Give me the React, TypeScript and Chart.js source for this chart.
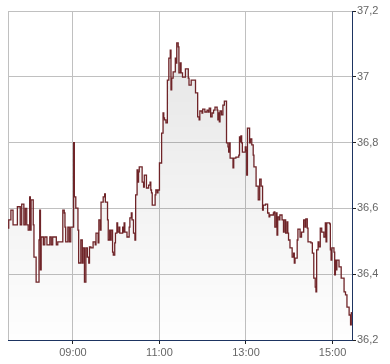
import React, { useEffect, useRef } from "react";
import { Chart, registerables } from "chart.js";

Chart.register(...registerables);

const times = [
  "07:30","07:31","07:34","07:37","07:43","07:47","07:49","07:52","07:54","07:56",
  "07:58","08:00","08:01","08:02","08:05","08:06","08:09","08:13","08:14","08:15",
  "08:16","08:19","08:21","08:24","08:28","08:30","08:32","08:37","08:39","08:46",
  "08:48","08:49","08:50","08:53","08:55","08:57","09:01","09:02","09:04","09:07",
  "09:08","09:11","09:13","09:14","09:16","09:18","09:20","09:22","09:23","09:25",
  "09:28","09:31","09:32","09:35","09:36","09:38","09:39","09:42","09:44","09:45",
  "09:48","09:49","09:51","09:52","09:53","09:55","09:56","09:58","09:59","10:01",
  "10:02","10:04","10:05","10:09","10:10","10:11","10:12","10:15","10:18","10:19",
  "10:21","10:22","10:24","10:26","10:27","10:29","10:30","10:31","10:32","10:36",
  "10:38","10:39","10:42","10:45","10:47","10:48","10:49","10:50","10:54","10:55",
  "10:57","10:58","11:00","11:03","11:05","11:06","11:07","11:09","11:11","11:13",
  "11:15","11:16","11:17","11:19","11:22","11:23","11:24","11:26","11:27","11:29",
  "11:30","11:32","11:36","11:40","11:41","11:44","11:50","11:53","11:55","11:56",
  "11:59","12:00","12:03","12:06","12:08","12:09","12:11","12:13","12:15","12:17",
  "12:20","12:21","12:22","12:23","12:24","12:26","12:28","12:30","12:33","12:35",
  "12:36","12:37","12:38","12:42","12:43","12:46","12:50","12:51","12:52","12:53",
  "12:54","12:55","12:59","13:00","13:01","13:02","13:05","13:06","13:08","13:10",
  "13:11","13:14","13:17","13:19","13:21","13:23","13:24","13:27","13:30","13:32",
  "13:33","13:38","13:39","13:40","13:42","13:43","13:44","13:46","13:47","13:50",
  "13:52","13:53","13:55","13:57","13:58","13:59","14:01","14:04","14:06","14:07",
  "14:08","14:11","14:12","14:15","14:17","14:20","14:22","14:23","14:25","14:26",
  "14:30","14:32","14:34","14:36","14:37","14:38","14:40","14:41","14:43","14:45",
  "14:48","14:50","14:51","14:52","14:56","14:57","14:58","14:59","15:02","15:03",
  "15:04","15:05","15:06","15:09","15:12","15:16","15:18","15:20","15:23","15:25",
  "15:26","15:27",
];

const prices = [
  36.54,36.565,36.595,36.55,36.605,36.55,36.613,36.55,36.60,36.55,
  36.534,36.635,36.534,36.626,36.55,36.452,36.376,36.504,36.595,36.413,
  36.513,36.489,36.513,36.489,36.513,36.489,36.513,36.489,36.498,36.595,
  36.586,36.543,36.498,36.543,36.498,36.543,36.80,36.635,36.601,36.534,
  36.434,36.504,36.434,36.48,36.376,36.48,36.452,36.434,36.483,36.48,
  36.498,36.489,36.525,36.495,36.565,36.534,36.619,36.635,36.644,36.619,
  36.565,36.504,36.534,36.504,36.534,36.467,36.458,36.495,36.525,36.556,
  36.528,36.543,36.525,36.543,36.528,36.556,36.528,36.513,36.543,36.571,
  36.586,36.565,36.525,36.504,36.641,36.717,36.68,36.711,36.726,36.68,
  36.665,36.701,36.662,36.671,36.68,36.656,36.647,36.61,36.641,36.656,
  36.647,36.656,36.738,36.829,36.89,36.875,36.869,36.86,36.99,37.057,
  37.081,36.96,36.996,37.015,37.057,37.042,37.103,37.091,37.012,37.042,
  37.012,36.999,37.024,36.996,36.975,36.99,36.951,36.878,36.869,36.896,
  36.89,36.902,36.893,36.899,36.893,36.905,36.878,36.89,36.899,36.908,
  36.899,36.869,36.89,36.863,36.896,36.884,36.914,36.926,36.799,36.787,
  36.771,36.799,36.753,36.723,36.753,36.756,36.762,36.817,36.802,36.82,
  36.799,36.771,36.787,36.777,36.701,36.844,36.799,36.811,36.793,36.762,
  36.726,36.668,36.626,36.689,36.668,36.595,36.61,36.613,36.586,36.574,
  36.58,36.586,36.589,36.543,36.586,36.519,36.574,36.565,36.58,36.565,
  36.528,36.565,36.525,36.559,36.525,36.504,36.48,36.452,36.464,36.434,
  36.449,36.504,36.537,36.513,36.528,36.565,36.543,36.568,36.54,36.498,
  36.495,36.464,36.388,36.361,36.346,36.474,36.498,36.483,36.54,36.528,
  36.513,36.556,36.498,36.556,36.553,36.474,36.443,36.48,36.467,36.398,
  36.443,36.413,36.443,36.422,36.388,36.346,36.337,36.30,36.276,36.246,
  36.282,36.285,
];

const xRange = ["07:30", "15:27"];
const xTickTimes = ["09:00", "11:00", "13:00", "15:00"];
const yRange = [36.2, 37.2];
const yTickValues = [36.2, 36.4, 36.6, 36.8, 37, 37.2];
const yTickLabels = ["36,2", "36,4", "36,6", "36,8", "37", "37,2"];

const toMin = (s: string) => {
  const [h, m] = s.split(":").map(Number);
  return h * 60 + m;
};

export default function App() {
  const ref = useRef<HTMLCanvasElement>(null);

  useEffect(() => {
    const canvas = ref.current!;
    const labelColor = "#666666";
    const font = { family: "'Liberation Sans', Arial, sans-serif", size: 11 };

    const frame = {
      id: "frame",
      beforeDatasetsDraw(chart: any) {
        const { ctx, chartArea: a } = chart;
        ctx.save();
        ctx.strokeStyle = "#c0c0c0";
        ctx.lineWidth = 1;
        ctx.beginPath();
        const x = Math.round(a.left) + 0.5;
        ctx.moveTo(x, a.top);
        ctx.lineTo(x, a.bottom);
        ctx.stroke();
        ctx.restore();
      },
    };

    const chart = new Chart(canvas, {
      type: "line",
      data: {
        datasets: [
          {
            data: times.map((t, i) => ({ x: toMin(t), y: prices[i] })),
            borderColor: "#6f2428",
            borderWidth: 1.3,
            stepped: true,
            pointRadius: 0,
            tension: 0,
            fill: "start",
            backgroundColor: (c: any) => {
              const a = c.chart.chartArea;
              if (!a) return "rgba(0,0,0,0.05)";
              const g = c.chart.ctx.createLinearGradient(0, a.top, 0, a.bottom);
              g.addColorStop(0, "rgba(0,0,0,0.11)");
              g.addColorStop(1, "rgba(0,0,0,0.005)");
              return g;
            },
          },
        ],
      },
      options: {
        responsive: false,
        animation: false,
        layout: { padding: { left: 8, top: 11, right: 0, bottom: 0 } },
        plugins: { legend: { display: false }, tooltip: { enabled: false } },
        scales: {
          x: {
            type: "linear",
            min: toMin(xRange[0]),
            max: toMin(xRange[1]),
            afterBuildTicks: (s: any) => {
              s.ticks = xTickTimes.map((t) => ({ value: toMin(t) }));
            },
            afterFit: (s: any) => {
              s.height = 24;
            },
            ticks: {
              callback: (v: any) => xTickTimes.find((t) => toMin(t) === v) ?? "",
              color: labelColor,
              font,
              padding: 2,
              maxRotation: 0,
              autoSkip: false,
            },
            grid: { color: "#c0c0c0", tickColor: "#222222", tickLength: 4, lineWidth: 1 },
            border: { color: "#1d3461", width: 1 },
          },
          y: {
            type: "linear",
            position: "right",
            min: yRange[0],
            max: yRange[1],
            afterBuildTicks: (s: any) => {
              s.ticks = yTickValues.map((v) => ({ value: v }));
            },
            afterFit: (s: any) => {
              s.width = 38;
            },
            ticks: {
              callback: (_v: any, i: number) => yTickLabels[i],
              color: labelColor,
              font,
              padding: 1,
              autoSkip: false,
            },
            grid: { color: "#c0c0c0", tickColor: "#222222", tickLength: 4, lineWidth: 1 },
            border: { color: "#1d3461", width: 1 },
          },
        },
      },
      plugins: [frame],
    } as any);

    return () => chart.destroy();
  }, []);

  return (
    <div style={{ position: "fixed", left: 0, top: 0, width: 390, height: 364, background: "#ffffff" }}>
      <canvas ref={ref} width={390} height={364} style={{ display: "block" }} />
    </div>
  );
}
